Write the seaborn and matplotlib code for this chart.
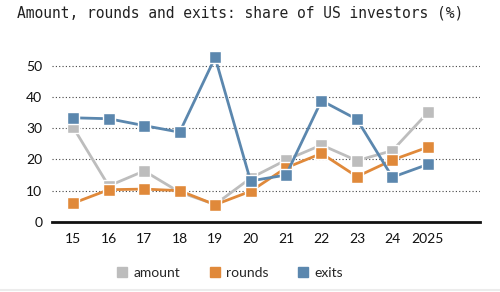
import matplotlib
matplotlib.use("Agg")
import matplotlib.pyplot as plt
import seaborn as sns
import pandas as pd
from matplotlib.lines import Line2D

years = ["15", "16", "17", "18", "19", "20", "21", "22", "23", "24", "2025"]
amount = [30.2, 11.5, 16.3, 9.5, 5.6, 14.0, 19.8, 24.6, 19.6, 22.8, 35.0]
rounds = [6.0, 10.3, 10.5, 10.0, 5.5, 9.8, 17.3, 21.9, 14.5, 19.8, 23.9]
exits = [33.3, 33.0, 30.8, 28.7, 52.6, 13.1, 15.0, 38.8, 32.8, 14.3, 18.4]
series = ["amount", "rounds", "exits"]
colors = ["#bdbdbd", "#e0893a", "#5b87ae"]
yticks = [0, 10, 20, 30, 40, 50]
title = "Amount, rounds and exits: share of US investors (%)"

rows = []
for name, vals in zip(series, [amount, rounds, exits]):
    for i, v in enumerate(vals):
        rows.append({"idx": i, "value": v, "series": name})
df = pd.DataFrame(rows)

sns.set_theme(style="white")
plt.rcParams["font.family"] = ["Lato", "DejaVu Sans"]

fig = plt.figure(figsize=(5.0, 2.92), dpi=100)
ax = fig.add_axes([0.104, 0.24, 0.856, 0.589])

sns.lineplot(data=df, x="idx", y="value", hue="series", hue_order=series,
             palette=colors, marker="s", markersize=8.6, markeredgecolor="white",
             markeredgewidth=1.0, linewidth=2.0, ax=ax, legend=False, zorder=3)

ax.set_xlim(-0.6, 11.47)
ax.set_ylim(0, 55)
ax.set_yticks(yticks)
ax.set_xticks(range(len(years)))
ax.set_xticklabels(years)
ax.set_xlabel("")
ax.set_ylabel("")
for y in yticks[1:]:
    ax.axhline(y, color="#444444", linestyle=(0, (1, 2)), linewidth=0.8, zorder=1)
for s in ["top", "right", "left"]:
    ax.spines[s].set_visible(False)
ax.spines["bottom"].set_color("#111111")
ax.spines["bottom"].set_linewidth(2)
ax.spines["bottom"].set_zorder(4)
ax.tick_params(axis="both", length=0, labelsize=10, colors="#111111")
ax.tick_params(axis="y", pad=7)
ax.tick_params(axis="x", pad=8)

fig.text(0.034, 0.955, title, fontsize=10.5, family=["DejaVu Sans Mono"],
         color="#222222", va="center", ha="left")

handles = [Line2D([0], [0], marker="s", linestyle="", color=c, markersize=7.5)
           for c in colors]
fig.legend(handles, series, loc="center", bbox_to_anchor=(0.458, 0.065),
           ncol=3, frameon=False, fontsize=10, handletextpad=0.3,
           columnspacing=2.0, handlelength=1.0)

fig.add_artist(Line2D([0, 1], [0.008, 0.008], color="#ececec", linewidth=1.5,
                      transform=fig.transFigure))

fig.savefig("out.png", dpi=100)
